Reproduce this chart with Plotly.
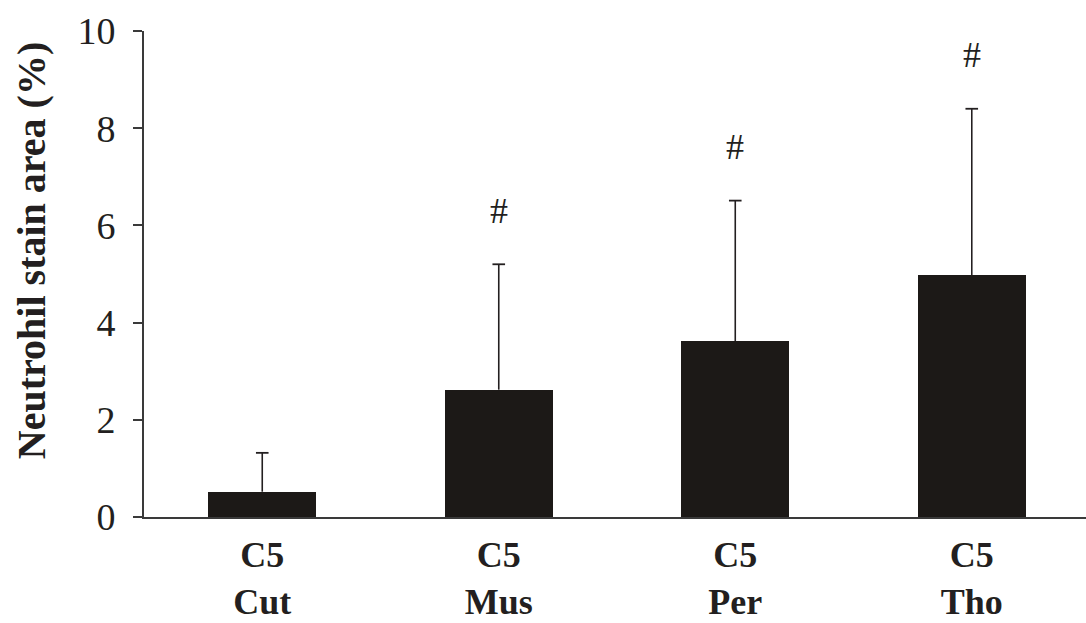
import plotly.graph_objects as go

# Neutrophil staining area per C5 site (mean ± SD, upper error only)
sites = ["Cut", "Mus", "Per", "Tho"]
groups = ["C5", "C5", "C5", "C5"]
means = [0.52, 2.62, 3.62, 4.97]
sds = [0.80, 2.58, 2.89, 3.43]
significant = [False, True, True, True]

y_ticks = [0, 2, 4, 6, 8, 10]
y_title = "Neutrohil stain area (%)"

ink = "#231f20"
axis_col = "#3a3a3a"
serif = "Liberation Serif, Times New Roman, serif"

positions = list(range(len(sites)))
ticktext = [f"<b>{g}</b><br><b>{s}</b>" for g, s in zip(groups, sites)]
tops = [m + sd for m, sd in zip(means, sds)]

fig = go.Figure()
fig.add_trace(go.Bar(
    x=positions,
    y=means,
    width=0.457,
    marker=dict(color="#1c1917", line=dict(color="#1c1917", width=0)),
    showlegend=False,
))
# upper-only error whiskers drawn from each bar top
fig.add_trace(go.Scatter(
    x=positions,
    y=tops,
    mode="markers",
    marker=dict(size=0.1, color="rgba(0,0,0,0)"),
    error_y=dict(
        type="data",
        symmetric=False,
        array=[0] * len(sds),
        arrayminus=sds,
        color=ink,
        thickness=1.6,
        width=0,
    ),
    showlegend=False,
    hoverinfo="skip",
))
# caps at the whisker tops
fig.add_trace(go.Scatter(
    x=positions,
    y=tops,
    mode="markers",
    marker=dict(symbol="line-ew", size=9, line=dict(color=ink, width=1.8)),
    showlegend=False,
    hoverinfo="skip",
))

# "#" markers above the error bars of significant groups
for pos, top, sig in zip(positions, tops, significant):
    if sig:
        fig.add_annotation(
            x=pos, y=top + 1.1, text="#", showarrow=False,
            font=dict(family=serif, size=36, color=ink),
            xanchor="center", yanchor="middle",
        )

# rotated y-axis title, set slightly above the axis midpoint
fig.add_annotation(
    xref="paper", yref="paper", x=-0.12, y=0.549,
    text=f"<b>{y_title}</b>", textangle=-90, showarrow=False,
    font=dict(family=serif, size=40, color=ink),
    xanchor="center", yanchor="middle",
)

fig.update_layout(
    width=1086, height=623,
    margin=dict(l=144, r=0, t=31, b=106),
    plot_bgcolor="white", paper_bgcolor="white",
    font=dict(family=serif, color=ink),
    bargap=0,
)
fig.update_xaxes(
    range=[-0.5, 3.483],
    tickvals=positions,
    ticktext=ticktext,
    tickfont=dict(family=serif, size=36, color=ink),
    ticks="",
    ticklabelstandoff=5,
    automargin=False,
    showline=True, linecolor=axis_col, linewidth=1.6,
    showgrid=False, zeroline=False,
)
fig.update_yaxes(
    range=[0, 10],
    tickvals=y_ticks,
    tickfont=dict(family=serif, size=38, color=ink),
    ticks="outside", ticklen=9, tickwidth=1.6, tickcolor=axis_col,
    ticklabelstandoff=10,
    automargin=False,
    showline=True, linecolor=axis_col, linewidth=1.6,
    showgrid=False, zeroline=False,
)

fig.write_html("out.html")
